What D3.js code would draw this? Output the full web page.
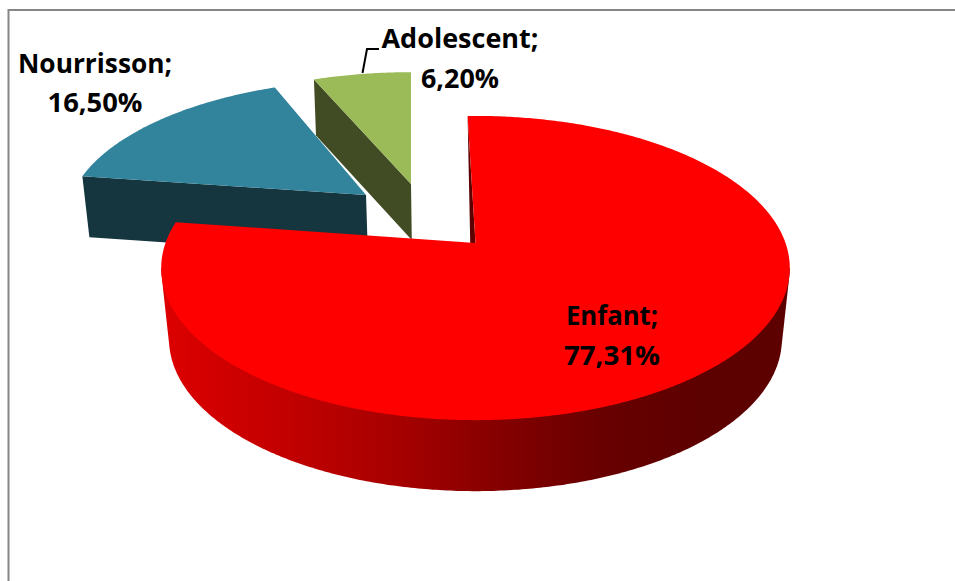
<!DOCTYPE html>
<html>
<head>
<meta charset="utf-8">
<script src="https://cdn.jsdelivr.net/npm/d3@7/dist/d3.min.js"></script>
<style>
html,body{margin:0;padding:0;background:#fff;overflow:hidden}
svg{display:block}
text{font-family:"Open Sans",Lato,sans-serif;font-weight:700;font-size:26px;fill:#000}
</style>
</head>
<body>
<svg id="c" width="955" height="581"></svg>
<script>
// Data
const categories = ["Enfant", "Nourrisson", "Adolescent"];
const values = [77.31, 16.50, 6.20];
const topColors = ["#ff0000", "#31849b", "#9bbb59"];
const wallColors = ["#7a0000", "#15353f", "#414c24"];

// Layout
const R = 310, S = 148, k = 0.1645;
const sliceLayout = [
  {ax: 475.5, ay: 243, sx: 1, sy: 1, shx: 0, depth: 71, shrink: 0.975, pivot: 474, startTurn: -1.7},
  {ax: 366, ay: 195, sx: 0.95, sy: 0.905, shx: -0.05, depth: 61, shrink: 0.982, pivot: 472, startTurn: 0},
  {ax: 411, ay: 184, sx: 0.95, sy: 0.88, shx: 0, depth: 56, shrink: 0.987, pivot: 472, startTurn: 0}
];
const labelLayout = [
  {x: 612, y1: 325, y2: 365, w1: 92, w2: 96},
  {x: 95, y1: 72.5, y2: 111.5, w1: 154, w2: 95},
  {x: 460, y1: 48, y2: 88, w1: 157, w2: 78}
];

const svg = d3.select("#c");
const defs = svg.append("defs");

// Enfant wall shading
const grad = defs.append("linearGradient").attr("id", "wallGrad")
  .attr("gradientUnits", "userSpaceOnUse").attr("x1", 162).attr("x2", 790).attr("y1", 0).attr("y2", 0);
[[0,"#dd0000"],[0.22,"#bf0000"],[0.38,"#a60000"],[0.52,"#880000"],[0.70,"#680000"],[0.86,"#5d0000"],[1,"#5c0000"]]
  .forEach(([o,c]) => grad.append("stop").attr("offset", o).attr("stop-color", c));

// Chart frame
svg.append("path").attr("d", d3.line()([[8.5,581],[8.5,10],[955,10]]))
  .attr("fill","none").attr("stroke","#868686").attr("stroke-width",2);

const arcs = d3.pie().sort(null).value(d => d).startAngle(0).endAngle(2*Math.PI)(values);
const line = d3.line();

function project(layout, angle) {
  const u = Math.sin(angle), v = -Math.cos(angle), w = 1 - k*v;
  return [layout.ax + layout.sx*R*u/w + layout.shx*S*v/w, layout.ay + layout.sy*S*v/w];
}
function lower(layout, p) {
  return [layout.pivot + (p[0]-layout.pivot)*layout.shrink, p[1] + layout.depth];
}
function rim(layout, a0, a1) {
  const n = Math.max(2, Math.ceil((a1-a0)/0.01));
  return d3.range(n+1).map(i => project(layout, a0 + (a1-a0)*i/n));
}

// Draw back to front: Adolescent, Nourrisson, Enfant
[2,1,0].forEach(i => {
  const a = arcs[i], L = sliceLayout[i];
  const a0 = a.startAngle + L.startTurn*Math.PI/180, a1 = a.endAngle;
  const pts = rim(L, a0, a1);
  const apex = [L.ax, L.ay];
  const g = svg.append("g").attr("class","slice").attr("data-name", categories[i]);
  if (i === 0) {
    // outer curved wall: silhouette of the visible rim, extruded downwards
    const front = rim(L, Math.acos(-k), Math.min(a1, 2*Math.PI - Math.acos(-k)));
    const hull = d3.polygonHull(front.concat(front.map(p => lower(L, p))));
    g.append("path").attr("d", line(hull)+"Z").attr("fill","url(#wallGrad)");
    // thin visible sliver of the cut face
    g.append("path").attr("d", line([pts[0], apex, [apex[0]-3.8, apex[1]+L.depth]])+"Z").attr("fill","#5c0000");
  } else {
    // cut face that looks at the viewer (start edge)
    const e = pts[0];
    g.append("path").attr("d", line([e, apex, lower(L, apex), lower(L, e)])+"Z").attr("fill", wallColors[i]);
  }
  g.append("path").attr("d", line([apex].concat(pts))+"Z").attr("fill", topColors[i]);
});

// Leader line for Adolescent
svg.append("path").attr("d", line([[362.5,73],[367,49],[379,49]]))
  .attr("fill","none").attr("stroke","#000").attr("stroke-width",2);

// Labels
const pct = d3.format(".2f");
categories.forEach((c,i) => {
  const L = labelLayout[i];
  svg.append("text").attr("x",L.x).attr("y",L.y1).attr("text-anchor","middle")
    .attr("textLength",L.w1).attr("lengthAdjust","spacingAndGlyphs").text(c+";");
  svg.append("text").attr("x",L.x).attr("y",L.y2).attr("text-anchor","middle")
    .attr("textLength",L.w2).attr("lengthAdjust","spacingAndGlyphs").text(pct(values[i]).replace(".",",")+"%");
});
</script>
</body>
</html>
